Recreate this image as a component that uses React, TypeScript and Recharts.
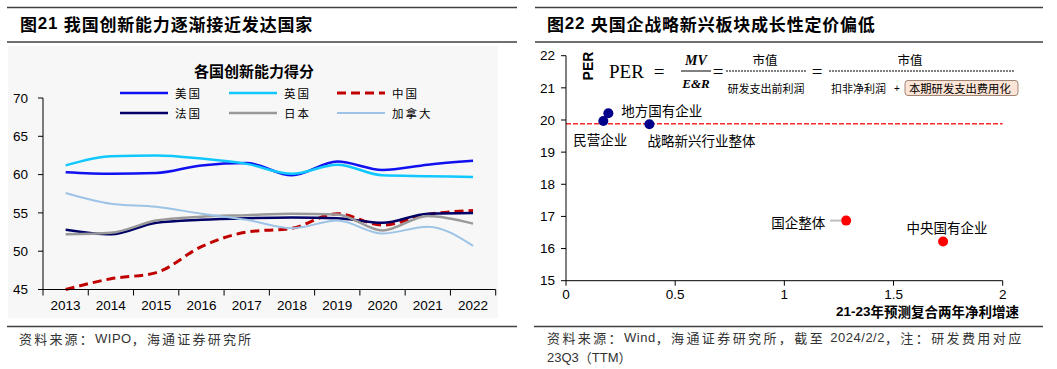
import { LineChart, Line, XAxis, YAxis, ScatterChart, Scatter, ReferenceLine, LabelList } from "recharts"

// 左图：各国创新能力得分
const years = ["2013", "2014", "2015", "2016", "2017", "2018", "2019", "2020", "2021", "2022"]
const usa = [60.3, 60.1, 60.2, 61.2, 61.5, 59.9, 61.7, 60.6, 61.3, 61.8]
const uk = [61.2, 62.4, 62.5, 62.1, 61.4, 60.1, 61.3, 59.9, 59.8, 59.7]
const china = [45.0, 46.4, 47.2, 50.6, 52.5, 53.0, 54.9, 53.4, 54.8, 55.3]
const france = [52.8, 52.2, 53.7, 54.1, 54.3, 54.4, 54.3, 53.7, 54.9, 55.0]
const japan = [52.2, 52.4, 54.0, 54.5, 54.7, 54.9, 54.8, 52.7, 54.6, 53.6]
const canada = [57.6, 56.2, 55.8, 54.9, 54.1, 53.0, 54.0, 52.3, 53.2, 50.7]
const scoreTicks = [45, 50, 55, 60, 65, 70]

// 右图：成长性 vs PER
const firms = ["地方国有企业", "民营企业", "战略新兴行业整体", "国企整体", "中央国有企业"]
const growth = [0.194, 0.171, 0.382, 1.283, 1.727]
const per = [20.21, 19.97, 19.87, 16.87, 16.22]
const soeFirms = ["国企整体", "中央国有企业"]
const growthTicks = [0, 0.5, 1, 1.5, 2]
const perTicks = [15, 16, 17, 18, 19, 20, 21, 22]
const avgPer = 19.88

const series = [
  { key: "usa", name: "美国", values: usa, color: "#1010f0", width: 2.5, dash: undefined },
  { key: "uk", name: "英国", values: uk, color: "#10c8ff", width: 2.5, dash: undefined },
  { key: "china", name: "中国", values: china, color: "#c00000", width: 3, dash: "9 5" },
  { key: "france", name: "法国", values: france, color: "#000066", width: 2.5, dash: undefined },
  { key: "japan", name: "日本", values: japan, color: "#999999", width: 2.5, dash: undefined },
  { key: "canada", name: "加拿大", values: canada, color: "#9dc3e6", width: 2, dash: undefined },
]

const scoreRows = years.map((y, i) => {
  const row: Record<string, number | string> = { x: i + 0.5, year: y }
  series.forEach(s => { row[s.key] = s.values[i] })
  return row
})
const boundaryTicks = years.map((_, i) => i).concat([years.length])

const firmRows = firms.map((name, i) => ({ name, growth: growth[i], per: per[i] }))
const otherRows = firmRows.filter(r => !soeFirms.includes(r.name))
const soeRows = firmRows.filter(r => soeFirms.includes(r.name))

const labelPlace: Record<string, { dx: number; dy: number; anchor: "start" | "middle" | "end" }> = {
  "地方国有企业": { dx: 13, dy: -3, anchor: "start" },
  "民营企业": { dx: -3, dy: 18, anchor: "middle" },
  "战略新兴行业整体": { dx: -2, dy: 16, anchor: "start" },
  "国企整体": { dx: -21, dy: 1, anchor: "end" },
  "中央国有企业": { dx: 4, dy: -14, anchor: "middle" },
}

const cjk = "'Noto Sans CJK SC', 'Liberation Sans', sans-serif"
const sans = "'Liberation Sans', Arial, 'Noto Sans CJK SC', sans-serif"
const serif = "'Liberation Serif', 'Times New Roman', serif"

const FirmLabel = (props: any) => {
  const { x, y, width, height, value } = props
  const cx = x + width / 2
  const cy = y + height / 2
  const p = labelPlace[value] || { dx: 8, dy: 0, anchor: "start" }
  return (
    <g>
      {value === "国企整体" && (
        <line x1={cx - 16} x2={cx - 5} y1={cy} y2={cy} stroke="#bfbfbf" strokeWidth={2} />
      )}
      <text x={cx + p.dx} y={cy + p.dy} textAnchor={p.anchor} dominantBaseline="central"
        fontSize={13.5} fontFamily={cjk} fill="#000">{value}</text>
    </g>
  )
}

const Dot = (props: any) => <circle cx={props.cx} cy={props.cy} r={5} fill={props.fill} />

const Decor = () => {
  const legendCols = [120, 229, 337]
  const legendRows = [93, 113]
  return (
    <svg width={1057} height={369} style={{ position: "absolute", left: 0, top: 0 }}>
      <rect x={8} y={46} width={490} height={272} fill="#f7f7f7" />
      {/* 标题栏 */}
      <line x1={7} x2={517} y1={7.5} y2={7.5} stroke="#404040" strokeWidth={1.5} />
      <line x1={7} x2={517} y1={42} y2={42} stroke="#404040" strokeWidth={1.5} />
      <line x1={535} x2={1043} y1={7.5} y2={7.5} stroke="#404040" strokeWidth={1.5} />
      <line x1={535} x2={1043} y1={42} y2={42} stroke="#404040" strokeWidth={1.5} />
      <text x={20} y={23} dominantBaseline="central" fontSize={17} letterSpacing={0.8} fontWeight="bold" fontFamily={cjk} fill="#000">
        图<tspan fontFamily={sans}>21 </tspan>我国创新能力逐渐接近发达国家
      </text>
      <text x={547} y={23} dominantBaseline="central" fontSize={17} letterSpacing={0.8} fontWeight="bold" fontFamily={cjk} fill="#000">
        图<tspan fontFamily={sans}>22 </tspan>央国企战略新兴板块成长性定价偏低
      </text>

      {/* 左图标题与图例 */}
      <text x={254} y={70} textAnchor="middle" dominantBaseline="central" fontSize={15} fontWeight="bold" fontFamily={cjk} fill="#000">各国创新能力得分</text>
      {series.map((s, i) => {
        const lx = legendCols[i % 3]
        const ly = legendRows[Math.floor(i / 3)]
        return (
          <g key={s.key}>
            <line x1={lx} x2={lx + 48} y1={ly} y2={ly} stroke={s.color} strokeWidth={s.width} strokeDasharray={s.dash} />
            <text x={lx + 55} y={ly} dominantBaseline="central" fontSize={11.5} letterSpacing={2} fontFamily={cjk} fill="#000">{s.name}</text>
          </g>
        )
      })}

      {/* 右图公式 */}
      <text x={609} y={71} dominantBaseline="central" fontSize={19} fontFamily={serif} fill="#000">PER</text>
      <text x={659} y={71} textAnchor="middle" dominantBaseline="central" fontSize={19} fontFamily={serif} fill="#000">=</text>
      <text x={696} y={60} textAnchor="middle" dominantBaseline="central" fontSize={14} fontStyle="italic" fontWeight="bold" fontFamily={serif} fill="#000">MV</text>
      <line x1={681} x2={711} y1={71} y2={71} stroke="#000" strokeWidth={1} />
      <text x={696} y={83} textAnchor="middle" dominantBaseline="central" fontSize={13} fontStyle="italic" fontWeight="bold" fontFamily={serif} fill="#000">E&amp;R</text>
      <text x={718} y={71} textAnchor="middle" dominantBaseline="central" fontSize={19} fontFamily={serif} fill="#000">=</text>
      <text x={765} y={59} textAnchor="middle" dominantBaseline="central" fontSize={12.5} fontFamily={cjk} fill="#000">市值</text>
      <line x1={726} x2={807} y1={71} y2={71} stroke="#000" strokeWidth={1} strokeDasharray="2 1" />
      <text x={766} y={88} textAnchor="middle" dominantBaseline="central" fontSize={11} fontFamily={cjk} fill="#000">研发支出前利润</text>
      <text x={817} y={71} textAnchor="middle" dominantBaseline="central" fontSize={19} fontFamily={serif} fill="#000">=</text>
      <text x={910} y={59} textAnchor="middle" dominantBaseline="central" fontSize={12.5} fontFamily={cjk} fill="#000">市值</text>
      <line x1={829} x2={1014} y1={71} y2={71} stroke="#000" strokeWidth={1} strokeDasharray="2 1" />
      <text x={831} y={88} dominantBaseline="central" fontSize={11} fontFamily={cjk} fill="#000">扣非净利润</text>
      <text x={897} y={88} textAnchor="middle" dominantBaseline="central" fontSize={10} fontFamily={sans} fill="#000">+</text>
      <rect x={905} y={80.5} width={113} height={15} rx={3} fill="#fce4d6" stroke="#a08474" strokeWidth={1} />
      <text x={909} y={88} dominantBaseline="central" fontSize={11.3} fontFamily={cjk} fill="#000">本期研发支出费用化</text>

      {/* 右图轴标题 */}
      <text x={0} y={0} transform="translate(588,66) rotate(-90)" textAnchor="middle" dominantBaseline="central" fontSize={14} fontWeight="bold" fontFamily={sans} fill="#000">PER</text>
      <text x={1019} y={311} textAnchor="end" dominantBaseline="central" fontSize={13.5} fontWeight="bold" fontFamily={cjk} fill="#000">
        <tspan fontFamily={sans}>21-23</tspan>年预测复合两年净利增速
      </text>

      {/* 资料来源 */}
      <line x1={7} x2={517} y1={326.5} y2={326.5} stroke="#404040" strokeWidth={1.5} />
      <line x1={534} x2={1043} y1={326.5} y2={326.5} stroke="#404040" strokeWidth={1.5} />
      <text x={19} y={338} dominantBaseline="central" fontSize={13} letterSpacing={2.2} fontFamily={cjk} fill="#333">
        资料来源：<tspan fontFamily={sans} letterSpacing={0.5}>WIPO</tspan>，海通证券研究所
      </text>
      <text x={547} y={337} dominantBaseline="central" fontSize={13} letterSpacing={2.4} fontFamily={cjk} fill="#333">
        资料来源：<tspan fontFamily={sans} letterSpacing={0.5}>Wind</tspan>，海通证券研究所，截至 <tspan fontFamily={sans} letterSpacing={0.5}>2024/2/2</tspan>，注：研发费用对应
      </text>
      <text x={547} y={357} dominantBaseline="central" fontSize={13} fontFamily={sans} fill="#333">
        23Q3<tspan fontFamily={cjk}>（</tspan>TTM<tspan fontFamily={cjk}>）</tspan>
      </text>
    </svg>
  )
}

const App = () => {
  const tickStyle = { fill: "#000", fontSize: 13.5, fontFamily: sans }
  return (
    <div style={{ position: "absolute", left: 0, top: 0, width: 1057, height: 369, background: "#fff", overflow: "hidden" }}>
      <Decor />
      <div style={{ position: "absolute", left: 0, top: 0 }}>
        <LineChart width={520} height={330} data={scoreRows} margin={{ top: 98, right: 24.3, bottom: 10.5, left: 8 }}>
          <XAxis xAxisId="band" type="number" dataKey="x" domain={[0, years.length]} ticks={boundaryTicks}
            tick={() => <g />} tickSize={6} height={6} stroke="#000" tickLine={{ stroke: "#000" }} />
          <XAxis xAxisId="lab" type="category" dataKey="year" axisLine={false} tickLine={false} tickSize={0} tickMargin={5}
            padding={{ left: 22.6, right: 22.6 }} height={24} tick={tickStyle} interval={0} />
          <YAxis domain={[45, 70]} ticks={scoreTicks} width={35} tickSize={5} tickMargin={10} stroke="#000"
            tick={tickStyle} tickLine={{ stroke: "#000" }} interval={0} />
          {series.map(s => (
            <Line key={s.key} xAxisId="band" type="monotone" dataKey={s.key} name={s.name} stroke={s.color}
              strokeWidth={s.width} strokeDasharray={s.dash} dot={false} activeDot={false} isAnimationActive={false} />
          ))}
        </LineChart>
      </div>
      <div style={{ position: "absolute", left: 530, top: 0 }}>
        <ScatterChart width={510} height={330} margin={{ top: 55.7, right: 37.3, bottom: 19.3, left: 5 }}>
          <XAxis type="number" dataKey="growth" domain={[0, 2]} ticks={growthTicks} tickSize={5} tickMargin={4}
            height={30} stroke="#000" tick={tickStyle} tickLine={{ stroke: "#000" }} interval={0} />
          <YAxis type="number" dataKey="per" domain={[15, 22]} ticks={perTicks} width={31} tickSize={5} tickMargin={6}
            stroke="#000" tick={tickStyle} tickLine={{ stroke: "#000" }} interval={0} />
          <ReferenceLine y={avgPer} stroke="#ff2a2a" strokeWidth={1.5} strokeDasharray="5 2" />
          <Scatter data={otherRows} fill="#00008b" shape={Dot} isAnimationActive={false}>
            <LabelList dataKey="name" content={FirmLabel} />
          </Scatter>
          <Scatter data={soeRows} fill="#ff0000" shape={Dot} isAnimationActive={false}>
            <LabelList dataKey="name" content={FirmLabel} />
          </Scatter>
        </ScatterChart>
      </div>
    </div>
  )
}

export default App
